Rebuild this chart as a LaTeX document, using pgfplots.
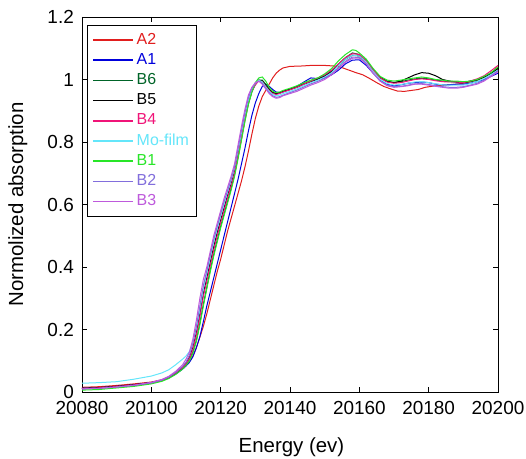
\documentclass[border=0pt]{standalone}
\usepackage{pgfplots}
\pgfplotsset{compat=1.18}
\usepackage{fontspec}
\setmainfont{Liberation Sans}
\definecolor{cA2}{RGB}{225,30,30}
\definecolor{cA1}{RGB}{0,0,220}
\definecolor{cB6}{RGB}{0,100,40}
\definecolor{cB5}{RGB}{0,0,0}
\definecolor{cB4}{RGB}{240,20,120}
\definecolor{cMo}{RGB}{100,230,250}
\definecolor{cB1}{RGB}{40,230,40}
\definecolor{cB2}{RGB}{130,110,220}
\definecolor{cB3}{RGB}{190,90,220}
\begin{document}
\begin{tikzpicture}
\useasboundingbox (-82bp,-67bp) rectangle (444bp,392bp);
\begin{axis}[
  scale only axis, width=416bp, height=375bp,
  at={(0,0)}, anchor=south west,
  xmin=20080, xmax=20200, ymin=0, ymax=1.2,
  xtick={20080,20100,...,20200}, ytick={0,0.2,...,1.2},
  scaled x ticks=false,
  /pgf/number format/.cd, 1000 sep={}, assume math mode=true, /pgfplots/.cd,
  tick align=inside, tick pos=both, major tick length=5bp,
  tick label style={font=\fontsize{19}{22}\selectfont},
  xticklabel style={inner sep=2bp, yshift=-7bp},
  yticklabel style={inner sep=2bp, xshift=-6bp},
  label style={font=\fontsize{20.5}{24}\selectfont},
  xlabel={Energy (ev)}, ylabel={Normolized absorption},
  xlabel style={at={(axis description cs:0.5036,-0.16)}, anchor=base},
  ylabel style={at={(axis description cs:-0.154,0.5)}, anchor=center},
  axis line style={line width=0.9bp},
  every tick/.style={line width=0.7bp, black},
  legend style={at={(0.0127,0.9787)}, anchor=north west, draw=black, line width=0.9bp,
    font=\fontsize{16}{18}\selectfont, row sep=0bp, inner xsep=5bp, inner ysep=4.5bp,
    nodes={text height=12bp, text depth=4bp, inner ysep=2.1bp, inner xsep=2.5bp}},
  legend cell align=left,
  legend image code/.code={\draw[#1, line width=1.5bp] (0bp,0bp) -- (40bp,0bp);},
  every axis plot/.append style={line width=1bp},
]
\addplot[cA2] table {
20080 0.015
20085 0.017
20090 0.021
20095 0.026
20100 0.032
20103 0.039
20105 0.047
20107 0.060
20109 0.076
20110 0.086
20111 0.098
20112 0.115
20113 0.142
20114 0.175
20115 0.210
20116 0.250
20117 0.295
20118 0.340
20119 0.385
20120 0.425
20121 0.470
20122 0.515
20123 0.555
20124 0.595
20125 0.635
20126 0.675
20127 0.720
20128 0.770
20129 0.825
20130 0.875
20131 0.915
20132 0.945
20133 0.965
20134 0.985
20135 1.005
20136 1.020
20137 1.030
20138 1.037
20140 1.042
20143 1.043
20146 1.045
20150 1.045
20153 1.043
20155 1.038
20157 1.030
20159 1.022
20161 1.015
20163 1.003
20165 0.990
20167 0.978
20169 0.970
20171 0.963
20173 0.962
20175 0.965
20177 0.968
20179 0.975
20182 0.980
20185 0.983
20188 0.985
20191 0.990
20194 0.998
20197 1.012
20200 1.040
};
\addlegendentry{\textcolor{cA2}{A2}}
\addplot[cA1] table {
20080 0.012
20085 0.014
20090 0.018
20095 0.023
20100 0.030
20103 0.037
20105 0.045
20107 0.057
20109 0.073
20110 0.083
20111 0.095
20112 0.113
20113 0.142
20114 0.177
20115 0.225
20116 0.275
20117 0.320
20118 0.365
20119 0.410
20120 0.455
20121 0.500
20122 0.545
20123 0.590
20124 0.635
20125 0.680
20126 0.730
20127 0.780
20128 0.835
20129 0.885
20130 0.925
20131 0.955
20132 0.978
20133 0.985
20134 0.978
20135 0.968
20136 0.960
20137 0.958
20138 0.960
20140 0.968
20142 0.978
20144 0.992
20146 1.005
20148 1.003
20150 1.005
20152 1.015
20154 1.030
20156 1.050
20158 1.062
20160 1.063
20162 1.045
20164 1.020
20166 0.998
20168 0.985
20170 0.980
20172 0.983
20174 0.988
20176 0.990
20178 0.992
20180 0.990
20182 0.985
20184 0.983
20186 0.983
20188 0.985
20190 0.985
20192 0.988
20194 0.993
20196 1.000
20198 1.010
20200 1.020
};
\addlegendentry{\textcolor{cA1}{A1}}
\addplot[cB6] table {
20080 0.010
20085 0.012
20090 0.016
20095 0.021
20100 0.029
20103 0.037
20105 0.046
20107 0.060
20109 0.078
20110 0.090
20111 0.105
20112 0.128
20113 0.166
20114 0.220
20115 0.280
20116 0.335
20117 0.390
20118 0.440
20119 0.485
20120 0.530
20121 0.570
20122 0.610
20123 0.650
20124 0.695
20125 0.750
20126 0.810
20127 0.870
20128 0.922
20129 0.960
20130 0.985
20131 0.998
20132 0.998
20133 0.985
20134 0.970
20135 0.960
20136 0.955
20137 0.957
20138 0.962
20140 0.970
20142 0.978
20144 0.987
20146 0.995
20148 1.002
20150 1.012
20152 1.028
20154 1.050
20156 1.070
20158 1.085
20160 1.080
20162 1.060
20164 1.032
20166 1.008
20168 0.995
20170 0.990
20172 0.993
20174 0.998
20176 1.002
20178 1.004
20180 1.002
20182 0.998
20184 0.995
20186 0.993
20188 0.992
20190 0.990
20192 0.993
20194 0.998
20196 1.008
20198 1.020
20200 1.035
};
\addlegendentry{\textcolor{cB6}{B6}}
\addplot[cB5] table {
20080 0.012
20085 0.014
20090 0.018
20095 0.023
20100 0.030
20103 0.038
20105 0.048
20107 0.062
20109 0.080
20110 0.092
20111 0.110
20112 0.142
20113 0.190
20114 0.250
20115 0.315
20116 0.365
20117 0.415
20118 0.465
20119 0.510
20120 0.550
20121 0.590
20122 0.630
20123 0.665
20124 0.705
20125 0.760
20126 0.820
20127 0.880
20128 0.930
20129 0.965
20130 0.985
20131 0.998
20132 0.995
20133 0.980
20134 0.968
20135 0.958
20136 0.955
20137 0.957
20138 0.962
20140 0.968
20142 0.975
20144 0.985
20146 0.993
20148 1.000
20150 1.010
20152 1.025
20154 1.045
20156 1.065
20158 1.078
20160 1.075
20162 1.055
20164 1.030
20166 1.005
20168 0.993
20170 0.990
20172 0.995
20174 1.005
20176 1.015
20178 1.022
20180 1.020
20182 1.012
20184 1.000
20186 0.995
20188 0.992
20190 0.990
20192 0.995
20194 1.000
20196 1.008
20198 1.020
20200 1.035
};
\addlegendentry{\textcolor{cB5}{B5}}
\addplot[cB4] table {
20080 0.011
20085 0.013
20090 0.017
20095 0.022
20100 0.029
20103 0.037
20105 0.047
20107 0.061
20109 0.079
20110 0.091
20111 0.107
20112 0.138
20113 0.183
20114 0.240
20115 0.305
20116 0.355
20117 0.405
20118 0.455
20119 0.500
20120 0.542
20121 0.582
20122 0.622
20123 0.660
20124 0.700
20125 0.755
20126 0.815
20127 0.875
20128 0.925
20129 0.962
20130 0.983
20131 0.995
20132 0.993
20133 0.978
20134 0.965
20135 0.955
20136 0.952
20137 0.955
20138 0.960
20140 0.967
20142 0.975
20144 0.985
20146 0.995
20148 1.005
20150 1.015
20152 1.030
20154 1.050
20156 1.070
20158 1.083
20160 1.080
20162 1.058
20164 1.030
20166 1.005
20168 0.992
20170 0.988
20172 0.990
20174 0.995
20176 1.000
20178 1.002
20180 1.000
20182 0.996
20184 0.993
20186 0.992
20188 0.992
20190 0.990
20192 0.995
20194 1.002
20196 1.012
20198 1.028
20200 1.045
};
\addlegendentry{\textcolor{cB4}{B4}}
\addplot[cMo] table {
20080 0.028
20085 0.030
20090 0.033
20095 0.041
20100 0.051
20103 0.061
20105 0.071
20107 0.087
20109 0.105
20110 0.115
20111 0.130
20112 0.160
20113 0.205
20114 0.265
20115 0.330
20116 0.380
20117 0.430
20118 0.480
20119 0.522
20120 0.563
20121 0.602
20122 0.640
20123 0.677
20124 0.718
20125 0.772
20126 0.830
20127 0.888
20128 0.935
20129 0.968
20130 0.988
20131 0.998
20132 0.992
20133 0.976
20134 0.962
20135 0.952
20136 0.948
20137 0.950
20138 0.955
20140 0.962
20142 0.970
20144 0.980
20146 0.990
20148 0.998
20150 1.008
20152 1.022
20154 1.045
20156 1.065
20158 1.078
20160 1.075
20162 1.055
20164 1.025
20166 1.000
20168 0.987
20170 0.982
20172 0.984
20174 0.988
20176 0.992
20178 0.993
20180 0.990
20182 0.986
20184 0.983
20186 0.982
20188 0.982
20190 0.982
20192 0.987
20194 0.993
20196 1.003
20198 1.016
20200 1.030
};
\addlegendentry{\textcolor{cMo}{Mo-film}}
\addplot[cB1] table {
20080 0.006
20085 0.008
20090 0.013
20095 0.018
20100 0.026
20103 0.034
20105 0.043
20107 0.056
20109 0.073
20110 0.085
20111 0.100
20112 0.124
20113 0.162
20114 0.215
20115 0.275
20116 0.330
20117 0.385
20118 0.435
20119 0.480
20120 0.525
20121 0.565
20122 0.605
20123 0.645
20124 0.690
20125 0.745
20126 0.805
20127 0.865
20128 0.920
20129 0.960
20130 0.990
20131 1.005
20132 1.008
20133 0.995
20134 0.975
20135 0.962
20136 0.958
20137 0.960
20138 0.965
20140 0.972
20142 0.980
20144 0.990
20146 0.998
20148 1.005
20150 1.018
20152 1.035
20154 1.060
20156 1.080
20158 1.095
20159 1.093
20160 1.085
20162 1.065
20164 1.035
20166 1.010
20168 0.998
20170 0.995
20172 0.998
20174 1.002
20176 1.005
20178 1.008
20180 1.005
20182 1.000
20184 0.998
20186 0.995
20188 0.995
20190 0.993
20192 0.995
20194 1.000
20196 1.010
20198 1.022
20200 1.040
};
\addlegendentry{\textcolor{cB1}{B1}}
\addplot[cB2] table {
20080 0.010
20085 0.012
20090 0.016
20095 0.021
20100 0.029
20103 0.038
20105 0.048
20107 0.063
20109 0.082
20110 0.096
20111 0.118
20112 0.156
20113 0.210
20114 0.275
20115 0.340
20116 0.388
20117 0.438
20118 0.488
20119 0.530
20120 0.570
20121 0.610
20122 0.645
20123 0.680
20124 0.720
20125 0.778
20126 0.838
20127 0.895
20128 0.942
20129 0.972
20130 0.988
20131 0.995
20132 0.988
20133 0.972
20134 0.958
20135 0.948
20136 0.943
20137 0.945
20138 0.950
20140 0.958
20142 0.966
20144 0.976
20146 0.986
20148 0.994
20150 1.004
20152 1.018
20154 1.038
20156 1.058
20158 1.072
20160 1.070
20162 1.050
20164 1.020
20166 0.995
20168 0.982
20170 0.977
20172 0.978
20174 0.982
20176 0.986
20178 0.987
20180 0.984
20182 0.980
20184 0.977
20186 0.975
20188 0.975
20190 0.977
20192 0.982
20194 0.988
20196 0.998
20198 1.012
20200 1.028
};
\addlegendentry{\textcolor{cB2}{B2}}
\addplot[cB3] table {
20080 0.010
20085 0.012
20090 0.016
20095 0.022
20100 0.031
20103 0.040
20105 0.050
20107 0.066
20109 0.087
20110 0.105
20111 0.128
20112 0.170
20113 0.230
20114 0.300
20115 0.360
20116 0.400
20117 0.450
20118 0.500
20119 0.540
20120 0.580
20121 0.620
20122 0.655
20123 0.690
20124 0.730
20125 0.790
20126 0.850
20127 0.905
20128 0.950
20129 0.975
20130 0.990
20131 0.995
20132 0.985
20133 0.970
20134 0.955
20135 0.945
20136 0.940
20137 0.942
20138 0.948
20140 0.955
20142 0.962
20144 0.972
20146 0.982
20148 0.990
20150 1.000
20152 1.015
20154 1.035
20156 1.055
20158 1.068
20160 1.068
20162 1.050
20164 1.020
20166 0.995
20168 0.980
20170 0.975
20172 0.977
20174 0.980
20176 0.985
20178 0.985
20180 0.982
20182 0.978
20184 0.975
20186 0.972
20188 0.972
20190 0.975
20192 0.980
20194 0.985
20196 0.995
20198 1.010
20200 1.025
};
\addlegendentry{\textcolor{cB3}{B3}}
\end{axis}
\end{tikzpicture}
\end{document}
